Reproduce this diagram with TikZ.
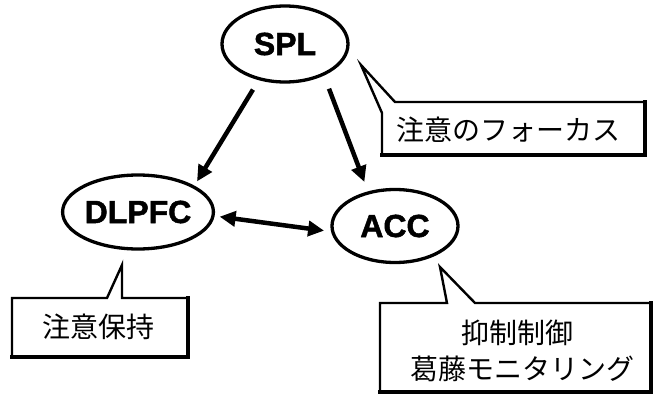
\documentclass[tikz,border=0pt]{standalone}
\usepackage{fontspec}
\newfontfamily\labfont{Liberation Sans}[BoldFeatures={FakeBold=1.5}]
\newfontfamily\jpfont{Noto Sans CJK JP}
\usetikzlibrary{shapes.geometric,arrows.meta}
\tikzset{
  region/.style={draw, ellipse, line width=3.3pt, inner sep=0pt,
    font=\labfont\bfseries\fontsize{32}{36}\selectfont},
  arr/.style={line width=4.5pt, -{Triangle[length=16pt,width=15pt]}},
  darr/.style={line width=4.5pt, {Triangle[length=16pt,width=15pt]}-{Triangle[length=16pt,width=15pt]}},
  callout/.style={draw, line width=2.4pt, line join=miter},
  calloutshadow/.style={draw, line width=4pt, line cap=rect},
  jtext/.style={font=\jpfont\fontsize{28}{32}\selectfont, inner sep=0pt}
}
\begin{document}
\begin{tikzpicture}[x=1pt,y=-1pt]
\useasboundingbox (0,0) rectangle (654,396);
% regions
\node[region, minimum width=126pt, minimum height=76pt] (spl) at (285,44) {SPL};
\node[region, minimum width=150pt, minimum height=74pt] (dlpfc) at (138,212) {DLPFC};
\node[region, minimum width=126pt, minimum height=73pt] (acc) at (395,226) {ACC};
% connectors
\draw[arr, shorten <=11pt, shorten >=5pt] (spl.234) -- (dlpfc.25);
\draw[arr, shorten <=14pt, shorten >=10pt] (spl.321) -- (acc.128);
\draw[darr, shorten <=5pt, shorten >=7pt] (dlpfc.-3) -- (acc.185);
% callout 1
\draw[callout] (382,155) -- (382,113) -- (361,65) -- (395,102) -- (645,102) -- (645,155) -- cycle;
\draw[calloutshadow] (645,102) -- (645,155) -- (382,155);
\node[jtext] (t1) at (508,130) {注意のフォーカス};
% callout 2
\draw[callout] (12,357) -- (12,298) -- (107,298) -- (122,265) -- (122,298) -- (188,298) -- (188,357) -- cycle;
\draw[calloutshadow] (188,298) -- (188,357) -- (12,357);
\node[jtext] (t2) at (98,327) {注意保持};
% callout 3
\draw[callout] (380,392) -- (380,303) -- (447,303) -- (440,267) -- (475,303) -- (651,303) -- (651,392) -- cycle;
\draw[calloutshadow] (651,303) -- (651,392) -- (380,392);
\node[jtext] (t3) at (517,333) {抑制制御};
\node[jtext] (t4) at (522,369) {葛藤モニタリング};
\end{tikzpicture}
\end{document}
